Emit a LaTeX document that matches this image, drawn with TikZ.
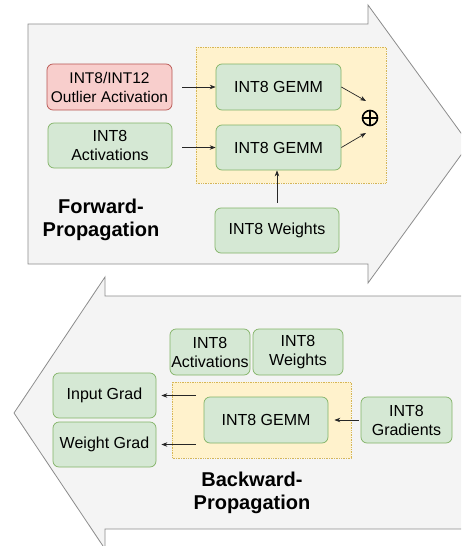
\documentclass[tikz,border=0pt]{standalone}
\usepackage{fontspec}
\setmainfont{Liberation Sans}
\usetikzlibrary{arrows.meta}
\definecolor{gfill}{HTML}{D5E8D4}
\definecolor{gline}{HTML}{82B366}
\definecolor{rfill}{HTML}{F8CECC}
\definecolor{rline}{HTML}{B85450}
\definecolor{yfill}{HTML}{FFF2CC}
\definecolor{yline}{HTML}{D6B656}
\definecolor{afill}{HTML}{F4F4F4}
\definecolor{aline}{HTML}{8C8C8C}
\begin{document}
\begin{tikzpicture}[x=1pt,y=-1pt,
  bigarrow/.style={draw=aline, fill=afill, line width=0.8pt, line join=miter},
  ybox/.style={draw=yline, fill=yfill, densely dotted, line width=0.7pt},
  gbox/.style={draw=gline, fill=gfill, rounded corners=6pt, align=center, inner sep=0pt, line width=0.7pt, font=\fontsize{16}{19}\selectfont},
  rbox/.style={gbox, draw=rline, fill=rfill},
  title/.style={align=center, font=\fontsize{20}{23}\selectfont\bfseries},
  arr/.style={-{Stealth[length=6pt,width=4.5pt]}, line width=0.7pt, draw=black!85}]
\useasboundingbox (0,0) rectangle (461,546);
\begin{scope}
\clip (0,0) rectangle (461,546);
% forward big arrow
\draw[bigarrow] (28,24) -- (368,24) -- (368,5) -- (469,144) -- (368,283) -- (368,264) -- (28,264) -- cycle;
% backward big arrow
\draw[bigarrow] (475,296) -- (105,296) -- (105,277) -- (14,413) -- (105,549) -- (105,529) -- (475,529);
\end{scope}

% ---------- forward ----------
\draw[ybox] (196,47) rectangle (386,183);
\node[rbox, minimum width=125pt, minimum height=46pt, font=\fontsize{15.5}{19}\selectfont] (out) at (109.5,87) {INT8/INT12\\Outlier Activation};
\node[gbox, minimum width=124pt, minimum height=45pt] (act) at (110,145.5) {INT8\\Activations};
\node[gbox, minimum width=125pt, minimum height=46pt] (g1) at (278.5,87) {INT8 GEMM};
\node[gbox, minimum width=125pt, minimum height=45pt] (g2) at (278.5,147.5) {INT8 GEMM};
\node[gbox, minimum width=124pt, minimum height=45pt] (wt) at (277,230.5) {INT8 Weights};
\node[circle, draw, line width=1.6pt, minimum size=15pt, inner sep=0pt,
  path picture={\draw[line width=1.6pt] (path picture bounding box.north) -- (path picture bounding box.south)
    (path picture bounding box.west) -- (path picture bounding box.east);}] (plus) at (370,118) {};
\node[title] (ftitle) at (101,219.5) {Forward-\\Propagation};

\draw[arr, shorten <=10pt] (out.east) -- (g1.west);
\draw[arr, shorten <=10pt] (act.east |- g2.west) -- (g2.west);
\draw[arr] (g1.east) -- ([shift={(-4,-17)}]plus.center);
\draw[arr] (g2.east) -- ([shift={(-4,15)}]plus.center);
\draw[arr, shorten <=5pt] (wt.north) -- (wt.north |- g2.south);

% ---------- backward ----------
\draw[ybox] (172,382) rectangle (351,458);
\node[gbox, minimum width=80pt, minimum height=46pt] (bact) at (210,352) {INT8\\Activations};
\node[gbox, minimum width=90pt, minimum height=46pt] (bwt) at (298,352) {INT8\\Weights};
\node[gbox, minimum width=124pt, minimum height=46pt] (bg) at (266,420) {INT8 GEMM};
\node[gbox, minimum width=103pt, minimum height=45pt] (ig) at (104.5,395.5) {Input Grad};
\node[gbox, minimum width=103pt, minimum height=45pt] (wg) at (104.5,444.5) {Weight Grad};
\node[gbox, minimum width=91pt, minimum height=46pt] (grad) at (406.5,420) {INT8\\Gradients};
\node[title] (btitle) at (252,493) {Backward-\\Propagation};

\draw[arr, shorten <=8pt, shorten >=5pt] (bg.west |- ig.east) -- (ig.east);
\draw[arr, shorten <=8pt, shorten >=5pt] (bg.west |- wg.east) -- (wg.east);
\draw[arr, shorten <=2pt, shorten >=6pt] (grad.west) -- (bg.east);
\end{tikzpicture}
\end{document}
